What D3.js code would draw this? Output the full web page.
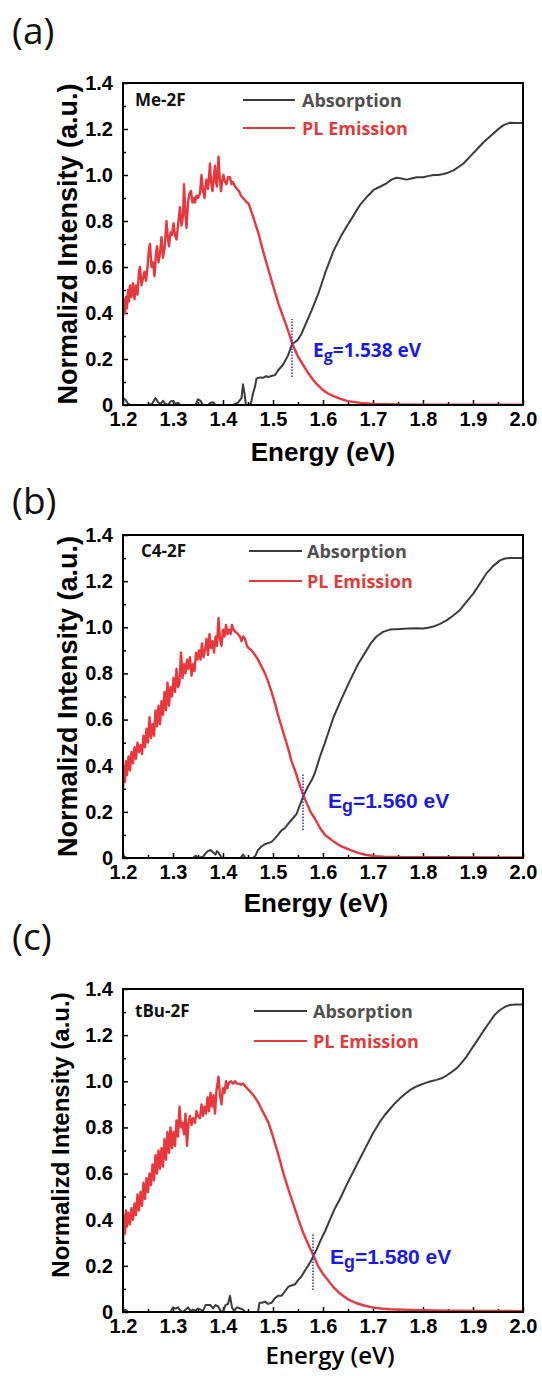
<!DOCTYPE html>
<html><head><meta charset="utf-8">
<script src="https://cdn.jsdelivr.net/npm/d3@7"></script>
<style>body{margin:0;background:#fff}</style>
</head><body>
<svg id="c" width="542" height="1376"></svg>
<script>
// ---------------- DATA ----------------
const panelTags = ["(a)", "(b)", "(c)"];
const sampleNames = ["Me-2F", "C4-2F", "tBu-2F"];
const gapValues = [1.538, 1.560, 1.580];
const gapLabels = ["1.538 eV", "1.560 eV", "1.580 eV"];
const seriesNames = ["Absorption", "PL Emission"];
const xTicks = [1.2, 1.3, 1.4, 1.5, 1.6, 1.7, 1.8, 1.9, 2.0];
const xMinorTicks = [1.25, 1.35, 1.45, 1.55, 1.65, 1.75, 1.85, 1.95];
const yTicks = [0, 0.2, 0.4, 0.6, 0.8, 1.0, 1.2, 1.4];
const yMinorTicks = [0.1, 0.3, 0.5, 0.7, 0.9, 1.1, 1.3];

const plA = [[1.200,0.38],[1.202,0.46],[1.204,0.40],[1.206,0.47],[1.208,0.42],[1.210,0.50],[1.212,0.45],[1.214,0.52],[1.217,0.47],[1.220,0.53],[1.223,0.46],[1.226,0.52],[1.229,0.48],[1.232,0.58],[1.234,0.60],[1.237,0.52],[1.240,0.55],[1.243,0.58],[1.246,0.54],[1.249,0.60],[1.252,0.68],[1.254,0.70],[1.257,0.60],[1.260,0.62],[1.263,0.56],[1.266,0.66],[1.268,0.69],[1.271,0.62],[1.274,0.66],[1.277,0.73],[1.280,0.64],[1.283,0.68],[1.285,0.74],[1.287,0.80],[1.290,0.72],[1.292,0.69],[1.295,0.75],[1.298,0.74],[1.301,0.79],[1.304,0.74],[1.307,0.72],[1.310,0.78],[1.314,0.86],[1.317,0.78],[1.320,0.82],[1.322,0.96],[1.325,0.83],[1.327,0.77],[1.330,0.88],[1.333,0.92],[1.336,0.93],[1.339,0.88],[1.342,0.90],[1.344,0.88],[1.347,0.91],[1.350,0.90],[1.354,0.92],[1.357,1.00],[1.360,0.93],[1.363,0.90],[1.365,0.95],[1.367,0.98],[1.370,0.94],[1.372,0.99],[1.374,1.05],[1.376,0.97],[1.379,0.93],[1.381,0.98],[1.384,1.04],[1.386,0.97],[1.388,0.95],[1.391,1.08],[1.393,1.00],[1.396,0.93],[1.398,0.97],[1.401,1.00],[1.404,0.97],[1.407,0.96],[1.410,0.99],[1.414,0.99],[1.417,0.96],[1.420,0.97],[1.424,0.95],[1.428,0.94],[1.432,0.93],[1.436,0.91],[1.440,0.90],[1.444,0.89],[1.448,0.88],[1.451,0.877],[1.460,0.82],[1.471,0.746],[1.480,0.67],[1.491,0.587],[1.500,0.52],[1.511,0.44],[1.520,0.385],[1.531,0.319],[1.538,0.27],[1.545,0.235],[1.550,0.21],[1.560,0.175],[1.570,0.14],[1.580,0.11],[1.590,0.085],[1.600,0.065],[1.610,0.05],[1.620,0.04],[1.635,0.027],[1.650,0.017],[1.675,0.009],[1.700,0.005],[1.750,0.002],[1.800,0.001],[1.900,0.001],[2.000,0.001]];
const absA = [[1.200,0.035],[1.203,0.025],[1.206,0.02],[1.210,0.005],[1.215,0.0],[1.250,0.0],[1.258,0.005],[1.265,0.03],[1.270,0.012],[1.275,0.005],[1.280,0.018],[1.285,0.005],[1.290,0.0],[1.295,0.015],[1.300,0.018],[1.305,0.005],[1.310,0.01],[1.315,0.0],[1.345,0.0],[1.350,0.025],[1.355,0.018],[1.360,0.0],[1.370,0.0],[1.375,0.01],[1.380,0.012],[1.385,0.0],[1.420,0.0],[1.430,0.01],[1.437,0.03],[1.440,0.09],[1.443,0.05],[1.446,0.0],[1.453,0.0],[1.456,0.01],[1.460,0.05],[1.464,0.08],[1.467,0.115],[1.474,0.12],[1.480,0.118],[1.486,0.125],[1.492,0.122],[1.498,0.127],[1.504,0.13],[1.510,0.15],[1.520,0.175],[1.530,0.215],[1.538,0.265],[1.545,0.275],[1.550,0.285],[1.557,0.31],[1.565,0.35],[1.577,0.41],[1.591,0.486],[1.604,0.572],[1.621,0.67],[1.635,0.73],[1.647,0.775],[1.660,0.82],[1.674,0.87],[1.690,0.91],[1.701,0.935],[1.715,0.95],[1.727,0.964],[1.737,0.98],[1.747,0.988],[1.757,0.985],[1.767,0.98],[1.777,0.985],[1.787,0.99],[1.800,0.99],[1.810,0.995],[1.821,1.0],[1.830,1.0],[1.841,1.004],[1.850,1.01],[1.861,1.02],[1.871,1.035],[1.881,1.05],[1.894,1.08],[1.907,1.11],[1.920,1.14],[1.934,1.167],[1.948,1.195],[1.961,1.217],[1.974,1.227],[1.985,1.226],[2.000,1.226]];

const plB = [[1.200,0.30],[1.202,0.40],[1.204,0.33],[1.206,0.42],[1.208,0.36],[1.211,0.44],[1.214,0.38],[1.217,0.46],[1.220,0.41],[1.223,0.48],[1.226,0.43],[1.229,0.50],[1.232,0.46],[1.235,0.49],[1.238,0.45],[1.241,0.53],[1.244,0.48],[1.247,0.56],[1.250,0.50],[1.253,0.61],[1.256,0.52],[1.259,0.58],[1.262,0.53],[1.265,0.64],[1.268,0.57],[1.271,0.66],[1.274,0.58],[1.277,0.68],[1.280,0.62],[1.283,0.72],[1.286,0.64],[1.289,0.76],[1.292,0.66],[1.295,0.74],[1.298,0.70],[1.301,0.78],[1.304,0.72],[1.307,0.82],[1.310,0.74],[1.313,0.76],[1.316,0.89],[1.319,0.78],[1.322,0.84],[1.325,0.80],[1.328,0.86],[1.331,0.82],[1.334,0.87],[1.337,0.79],[1.340,0.84],[1.343,0.81],[1.346,0.89],[1.349,0.86],[1.352,0.90],[1.355,0.86],[1.358,0.93],[1.361,0.87],[1.364,0.90],[1.367,0.95],[1.370,0.88],[1.373,0.97],[1.376,0.91],[1.379,0.94],[1.382,0.89],[1.385,0.96],[1.388,0.92],[1.391,1.04],[1.394,0.95],[1.397,0.92],[1.400,0.99],[1.403,0.96],[1.406,1.01],[1.409,0.97],[1.412,0.99],[1.415,0.97],[1.418,1.01],[1.421,0.99],[1.425,0.98],[1.430,0.97],[1.434,0.96],[1.437,0.94],[1.440,0.96],[1.444,0.95],[1.448,0.92],[1.451,0.91],[1.457,0.90],[1.464,0.88],[1.470,0.86],[1.477,0.83],[1.484,0.80],[1.491,0.76],[1.497,0.72],[1.504,0.67],[1.510,0.62],[1.517,0.57],[1.524,0.52],[1.531,0.47],[1.537,0.42],[1.544,0.38],[1.550,0.34],[1.556,0.30],[1.561,0.27],[1.567,0.24],[1.575,0.20],[1.584,0.17],[1.594,0.13],[1.604,0.10],[1.621,0.072],[1.637,0.05],[1.654,0.035],[1.670,0.022],[1.687,0.013],[1.705,0.008],[1.721,0.006],[1.760,0.004],[1.850,0.003],[2.000,0.002]];
const absB = [[1.200,0.01],[1.203,0.005],[1.208,0.0],[1.340,0.0],[1.345,0.01],[1.350,0.0],[1.360,0.005],[1.365,0.02],[1.370,0.03],[1.375,0.035],[1.380,0.025],[1.385,0.015],[1.388,0.03],[1.392,0.02],[1.396,0.005],[1.400,0.0],[1.435,0.0],[1.440,0.015],[1.445,0.0],[1.460,0.0],[1.465,0.01],[1.470,0.035],[1.477,0.05],[1.484,0.06],[1.491,0.065],[1.497,0.07],[1.504,0.085],[1.510,0.10],[1.517,0.12],[1.524,0.13],[1.531,0.15],[1.539,0.17],[1.547,0.19],[1.554,0.23],[1.561,0.27],[1.570,0.31],[1.578,0.34],[1.584,0.37],[1.594,0.44],[1.604,0.50],[1.621,0.61],[1.637,0.69],[1.654,0.77],[1.670,0.84],[1.687,0.90],[1.697,0.935],[1.707,0.96],[1.720,0.98],[1.734,0.99],[1.754,0.993],[1.770,0.995],[1.787,0.996],[1.800,0.995],[1.810,0.998],[1.821,1.003],[1.834,1.015],[1.847,1.03],[1.860,1.05],[1.874,1.075],[1.887,1.11],[1.901,1.147],[1.914,1.19],[1.927,1.234],[1.940,1.265],[1.954,1.29],[1.964,1.298],[1.974,1.30],[2.000,1.30]];

const plC = [[1.200,0.30],[1.202,0.42],[1.204,0.34],[1.206,0.44],[1.208,0.37],[1.211,0.43],[1.214,0.38],[1.217,0.45],[1.220,0.40],[1.223,0.47],[1.226,0.42],[1.229,0.51],[1.232,0.44],[1.235,0.52],[1.238,0.46],[1.241,0.56],[1.244,0.49],[1.247,0.58],[1.250,0.52],[1.253,0.60],[1.256,0.55],[1.259,0.64],[1.262,0.57],[1.265,0.68],[1.268,0.60],[1.271,0.70],[1.274,0.62],[1.277,0.71],[1.280,0.63],[1.283,0.75],[1.286,0.66],[1.289,0.78],[1.292,0.69],[1.295,0.80],[1.298,0.71],[1.301,0.78],[1.304,0.72],[1.307,0.83],[1.310,0.76],[1.313,0.89],[1.316,0.80],[1.319,0.82],[1.322,0.77],[1.325,0.86],[1.328,0.72],[1.331,0.82],[1.334,0.85],[1.337,0.81],[1.340,0.84],[1.344,0.82],[1.347,0.87],[1.350,0.85],[1.354,0.84],[1.357,0.90],[1.360,0.85],[1.363,0.89],[1.366,0.86],[1.369,0.93],[1.372,0.87],[1.375,0.95],[1.378,0.89],[1.381,0.94],[1.384,0.86],[1.387,0.96],[1.391,1.02],[1.394,0.94],[1.397,0.90],[1.400,0.97],[1.403,0.95],[1.406,1.00],[1.409,0.97],[1.412,0.995],[1.416,1.0],[1.420,0.99],[1.424,1.0],[1.428,0.99],[1.432,0.99],[1.436,0.985],[1.440,0.99],[1.444,0.98],[1.450,0.965],[1.457,0.95],[1.464,0.93],[1.470,0.91],[1.477,0.88],[1.484,0.85],[1.491,0.82],[1.500,0.76],[1.511,0.68],[1.521,0.60],[1.531,0.53],[1.541,0.465],[1.551,0.40],[1.561,0.34],[1.571,0.29],[1.581,0.245],[1.590,0.20],[1.600,0.165],[1.607,0.146],[1.620,0.11],[1.634,0.08],[1.650,0.055],[1.667,0.038],[1.684,0.027],[1.701,0.019],[1.720,0.014],[1.734,0.012],[1.774,0.009],[1.850,0.006],[1.930,0.005],[2.000,0.004]];
const absC = [[1.200,0.0],[1.205,0.01],[1.210,0.0],[1.295,0.0],[1.300,0.02],[1.305,0.015],[1.310,0.02],[1.315,0.005],[1.320,0.0],[1.325,0.01],[1.330,0.02],[1.335,0.005],[1.340,0.01],[1.345,0.005],[1.350,0.015],[1.355,0.01],[1.360,0.005],[1.365,0.03],[1.370,0.03],[1.375,0.03],[1.380,0.015],[1.385,0.03],[1.390,0.025],[1.395,0.005],[1.400,0.0],[1.405,0.03],[1.410,0.035],[1.414,0.07],[1.418,0.02],[1.422,0.005],[1.428,0.02],[1.435,0.015],[1.440,0.01],[1.445,0.0],[1.470,0.0],[1.473,0.04],[1.478,0.04],[1.484,0.045],[1.490,0.035],[1.497,0.04],[1.504,0.06],[1.510,0.07],[1.517,0.07],[1.524,0.09],[1.531,0.11],[1.537,0.115],[1.544,0.12],[1.551,0.14],[1.557,0.155],[1.564,0.18],[1.570,0.20],[1.577,0.225],[1.581,0.245],[1.587,0.27],[1.594,0.305],[1.604,0.35],[1.614,0.40],[1.624,0.45],[1.634,0.49],[1.647,0.55],[1.661,0.61],[1.674,0.665],[1.687,0.72],[1.700,0.775],[1.714,0.825],[1.724,0.855],[1.734,0.88],[1.744,0.905],[1.754,0.926],[1.764,0.945],[1.774,0.962],[1.784,0.975],[1.794,0.984],[1.804,0.992],[1.814,0.999],[1.827,1.006],[1.837,1.013],[1.847,1.025],[1.857,1.04],[1.867,1.056],[1.877,1.08],[1.887,1.107],[1.897,1.14],[1.907,1.172],[1.920,1.215],[1.934,1.259],[1.944,1.29],[1.954,1.309],[1.964,1.323],[1.974,1.331],[1.985,1.333],[2.000,1.333]];

const plSeries = [plA, plB, plC];
const absSeries = [absA, absB, absC];
const gapMarkerRanges = [[0.122, 0.374], [0.121, 0.368], [0.095, 0.342]];

// ---------------- LAYOUT ----------------
const ARIAL = "'Liberation Sans', Arial, sans-serif";
const OPEN = "'Open Sans', sans-serif";
const layout = [
  {top:83, bottom:405, tagY:44, yTitleX:77, yTitleSize:27, xTitleY:461, xTitleFont:ARIAL, xTitleWeight:"bold", xTitleSize:26, xTitleX:323,
   legY:[100,128], legX0:243, legX1:295, legTX:302, sampleX:135, egX:313, egY:357, egFont:OPEN, egSize:19},
  {top:535, bottom:858, tagY:514, yTitleX:77, yTitleSize:27, xTitleY:912, xTitleFont:ARIAL, xTitleWeight:"bold", xTitleSize:26, xTitleX:316,
   legY:[551,581], legX0:249, legX1:302, legTX:307, sampleX:141, egX:328, egY:808, egFont:ARIAL, egSize:21},
  {top:989, bottom:1312, tagY:950, yTitleX:69, yTitleSize:24, xTitleY:1364, xTitleFont:OPEN, xTitleWeight:"600", xTitleSize:24, xTitleX:330,
   legY:[1011,1041], legX0:254, legX1:307, legTX:313, sampleX:135, egX:330, egY:1264, egFont:ARIAL, egSize:21}
];
const LEFT = 123, RIGHT = 523;
const RED = "#e8383d", GRAY = "#3c3c3c", BLUE = "#1a1ae6";

const svg = d3.select("#c");
const defs = svg.append("defs");

layout.forEach((L, i) => {
  const x = d3.scaleLinear().domain([1.2, 2.0]).range([LEFT, RIGHT]);
  const y = d3.scaleLinear().domain([0, 1.4]).range([L.bottom, L.top]);
  const g = svg.append("g");

  defs.append("clipPath").attr("id", "clip" + i)
    .append("rect").attr("x", LEFT).attr("y", L.top).attr("width", RIGHT - LEFT).attr("height", L.bottom - L.top);

  // panel tag
  g.append("text").attr("x", 12).attr("y", L.tagY).text(panelTags[i])
    .attr("font-family", OPEN).attr("font-size", 37).attr("fill", "#111");

  // axes
  const styleAxis = sel => {
    sel.select(".domain").remove();
    sel.selectAll(".tick line").attr("stroke", "#000").attr("stroke-width", 1.5);
    sel.attr("font-family", ARIAL).attr("font-size", 20).attr("font-weight", "bold");
    sel.selectAll("text").attr("fill", "#000");
  };
  g.append("g").attr("transform", `translate(0,${L.bottom})`)
    .call(d3.axisBottom(x).tickValues(xTicks).tickSize(-5).tickPadding(7).tickFormat(d3.format(".1f")))
    .call(styleAxis);
  g.append("g").attr("transform", `translate(0,${L.bottom})`)
    .call(d3.axisBottom(x).tickValues(xMinorTicks).tickSize(-3).tickFormat(""))
    .call(styleAxis);
  g.append("g").attr("transform", `translate(${LEFT},0)`)
    .call(d3.axisLeft(y).tickValues(yTicks).tickSize(-5).tickPadding(10)
      .tickFormat(d => d === 0 ? "0" : d3.format(".1f")(d)))
    .call(styleAxis);
  g.append("g").attr("transform", `translate(${LEFT},0)`)
    .call(d3.axisLeft(y).tickValues(yMinorTicks).tickSize(-3).tickFormat(""))
    .call(styleAxis);

  // curves
  const line = d3.line().x(d => x(d[0])).y(d => y(d[1]));
  const cg = g.append("g").attr("clip-path", `url(#clip${i})`);
  cg.append("path").datum(absSeries[i]).attr("d", line)
    .attr("fill", "none").attr("stroke", GRAY).attr("stroke-width", 2).attr("stroke-linejoin", "round");
  cg.append("path").datum(plSeries[i]).attr("d", line)
    .attr("fill", "none").attr("stroke", RED).attr("stroke-width", 2.4).attr("stroke-linejoin", "round");
  // gap marker
  cg.append("line")
    .attr("x1", x(gapValues[i])).attr("x2", x(gapValues[i]))
    .attr("y1", y(gapMarkerRanges[i][0])).attr("y2", y(gapMarkerRanges[i][1]))
    .attr("stroke", "#2b2bd0").attr("stroke-width", 1.5).attr("stroke-dasharray", "1.5,1.5");

  // frame
  g.append("rect").attr("x", LEFT).attr("y", L.top).attr("width", RIGHT - LEFT).attr("height", L.bottom - L.top)
    .attr("fill", "none").attr("stroke", "#000").attr("stroke-width", 2);

  // sample name
  g.append("text").attr("x", L.sampleX).attr("y", L.legY[0] + 6).text(sampleNames[i])
    .attr("font-family", OPEN).attr("font-weight", "bold").attr("font-size", 17).attr("fill", "#111");

  // legend
  const legColors = [GRAY, RED], legText = ["#505050", "#e03c3c"];
  seriesNames.forEach((s, k) => {
    g.append("line").attr("x1", L.legX0).attr("x2", L.legX1).attr("y1", L.legY[k]).attr("y2", L.legY[k])
      .attr("stroke", legColors[k]).attr("stroke-width", 2.2);
    g.append("text").attr("x", L.legTX).attr("y", L.legY[k] + 6.5).text(s)
      .attr("font-family", OPEN).attr("font-weight", "bold").attr("font-size", 18).attr("fill", legText[k]);
  });

  // Eg label
  const eg = g.append("text").attr("x", L.egX).attr("y", L.egY)
    .attr("font-family", L.egFont).attr("font-weight", "bold").attr("font-size", L.egSize).attr("fill", BLUE);
  eg.append("tspan").text("E");
  eg.append("tspan").text("g").attr("font-size", L.egSize * 0.85).attr("dy", 4);
  eg.append("tspan").text("=" + gapLabels[i]).attr("dy", -4);

  // axis titles
  g.append("text").attr("x", L.xTitleX).attr("y", L.xTitleY).attr("text-anchor", "middle").text("Energy (eV)")
    .attr("font-family", L.xTitleFont).attr("font-weight", L.xTitleWeight).attr("font-size", L.xTitleSize).attr("fill", "#000");
  const cy = i === 2 ? 1135 : (L.top + L.bottom) / 2;
  g.append("text").attr("transform", `translate(${L.yTitleX},${cy}) rotate(-90)`).attr("text-anchor", "middle")
    .text("Normalizd Intensity (a.u.)")
    .attr("font-family", ARIAL).attr("font-weight", "bold").attr("font-size", L.yTitleSize).attr("fill", "#000");
});
</script>
</body></html>
